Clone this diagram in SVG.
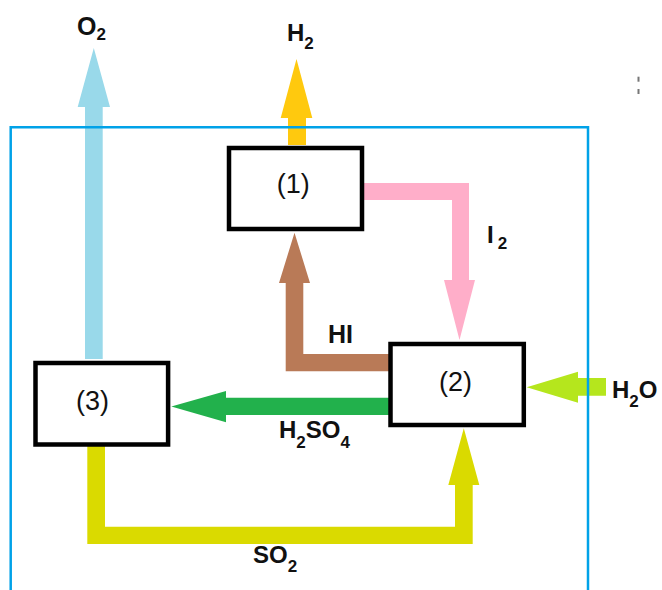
<svg xmlns="http://www.w3.org/2000/svg" width="662" height="590" viewBox="0 0 662 590">
<style>
.box{fill:#fff;stroke:#000;stroke-width:4.5}
.bt{font-family:"Liberation Sans",Arial,sans-serif;font-size:27px;fill:#111;text-anchor:middle}
.lb{font-family:"Liberation Sans",Arial,sans-serif;font-size:24px;font-weight:bold;fill:#111}
.sub{font-size:17px}
.frame{fill:none;stroke:#00A2E8;stroke-width:2.5}
</style>
<rect width="662" height="590" fill="#fff"/>
<g id="connectors">
<path id="o2" d="M85,359 V107 H77.7 L93.8,48 L110,107 H102.7 V359 Z" fill="#99D9EA"/>
<path id="h2" d="M288,145 V118 H280.7 L296.5,59 L312.3,118 H306 V145 Z" fill="#FFC90E"/>
<path id="i2" d="M364,183 H469 V280 H475 L459.5,340 L444,280 H452 V200 H364 Z" fill="#FFAEC9"/>
<path id="hi" d="M389,354 H303.3 V283 H310 L294.5,232.7 L279,283 H285.7 V371.3 H389 Z" fill="#B97A57"/>
<path id="h2so4" d="M389,397.7 H226 V391 L171.3,406.5 L226,422.3 V415 H389 Z" fill="#22B14C"/>
<path id="h2o" d="M606,378 H578 V371.7 L526.7,387.2 L578,402.7 V395.7 H606 Z" fill="#B5E61D"/>
<path id="so2" d="M87.3,446 V544 H472.7 V485 H479.3 L463.8,428.3 L448.3,485 H455 V526.7 H105 V446 Z" fill="#DADA00"/>
</g>
<path class="frame" d="M10.7,592 V127.3 H588 V592"/>
<g id="node1">
<rect class="box" x="229" y="148" width="133" height="81"/>
<text class="bt" x="293.3" y="193">(1)</text>
</g>
<g id="node2">
<rect class="box" x="390.5" y="344" width="133.3" height="81"/>
<text class="bt" x="455.5" y="391">(2)</text>
</g>
<g id="node3">
<rect class="box" x="35.5" y="363" width="132.6" height="81.5"/>
<text class="bt" x="92.5" y="409.5">(3)</text>
</g>
<g id="labels">
<text class="lb" x="77" y="35" style="font-size:25px">O<tspan class="sub" dy="4.5">2</tspan></text>
<text class="lb" x="287" y="40.7">H<tspan class="sub" dy="8.5">2</tspan></text>
<text class="lb" x="487" y="243.3">I<tspan class="sub" dx="4" dy="6">2</tspan></text>
<text class="lb" x="328" y="343.3" style="font-size:25px">HI</text>
<text class="lb" x="279" y="437.7">H<tspan class="sub" dy="10">2</tspan><tspan dy="-10">SO</tspan><tspan class="sub" dy="10">4</tspan></text>
<text class="lb" x="253" y="563.3">SO<tspan class="sub" dy="8.4">2</tspan></text>
<text class="lb" x="612" y="398">H<tspan class="sub" dy="8.7">2</tspan><tspan dy="-8.7">O</tspan></text>
</g>
<rect x="637.5" y="76.7" width="2" height="5" fill="#777"/>
<rect x="637.5" y="89" width="2" height="5" fill="#777"/>
</svg>
